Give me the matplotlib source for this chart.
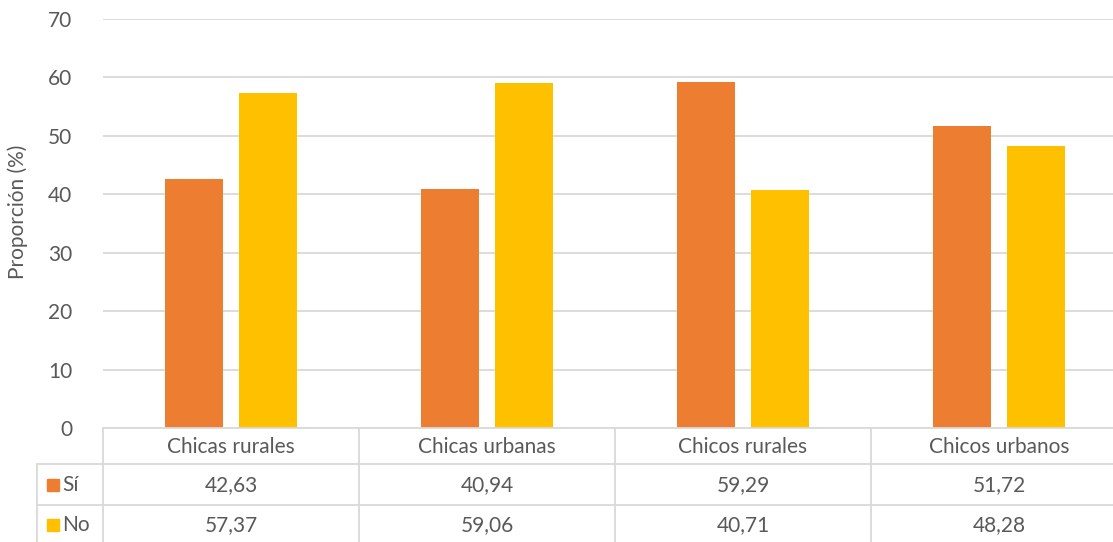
import matplotlib.pyplot as plt
from matplotlib.lines import Line2D
from matplotlib.patches import Rectangle
import numpy as np

plt.rcParams['font.family'] = ['Lato', 'DejaVu Sans']

# Datos
categorias = ["Chicas rurales", "Chicas urbanas", "Chicos rurales", "Chicos urbanos"]
si = [42.63, 40.94, 59.29, 51.72]
no = [57.37, 59.06, 40.71, 48.28]
series = ["Sí", "No"]
colores = ["#ED7D31", "#FFC000"]
gris_texto = "#595959"
gris_linea = "#D9D9D9"
fs = 15

W, H = 1113, 542
fig = plt.figure(figsize=(W / 100, H / 100), dpi=100)
# el área del gráfico se sale un poco por la derecha
ax = fig.add_axes([103 / W, (H - 428) / H, 1024 / W, 409 / H])

x = np.arange(len(categorias))
ancho = 0.227
ax.bar(x - 0.143, si, ancho, color=colores[0], zorder=3)
ax.bar(x + 0.143, no, ancho, color=colores[1], zorder=3)

ax.set_xlim(-0.5, len(categorias) - 0.5)
ax.set_ylim(0, 70)
ax.set_yticks(range(0, 71, 10))
ax.set_xticks([])
ax.tick_params(axis='y', length=0, pad=22, labelsize=fs, labelcolor=gris_texto)
ax.yaxis.grid(True, color=gris_linea, linewidth=1.3, zorder=0)
for s in ax.spines.values():
    s.set_visible(False)

fig.text(18 / W, (H - 212) / H, "Proporción (%)", rotation=90, ha='center', va='center',
         fontsize=fs, color=gris_texto)

# Tabla de datos bajo el eje
def fy(py):
    return (H - py) / H

def fx(px):
    return px / W

lw = 1.3
# líneas horizontales
fig.add_artist(Line2D([fx(103), 1], [fy(428), fy(428)], color=gris_linea, lw=lw))
fig.add_artist(Line2D([fx(37), 1], [fy(464), fy(464)], color=gris_linea, lw=lw))
fig.add_artist(Line2D([fx(37), 1], [fy(505), fy(505)], color=gris_linea, lw=lw))
# líneas verticales
fig.add_artist(Line2D([fx(37), fx(37)], [fy(464), 0], color=gris_linea, lw=lw))
for i in range(len(categorias)):
    px = 103 + 256 * i
    fig.add_artist(Line2D([fx(px), fx(px)], [fy(428), 0], color=gris_linea, lw=lw))

filas_y = [485, 525]
for i, cat in enumerate(categorias):
    cx = fx(103 + 256 * i + 128)
    fig.text(cx, fy(447), cat, ha='center', va='center', fontsize=fs, color=gris_texto)
    fig.text(cx, fy(filas_y[0]), f"{si[i]:.2f}".replace('.', ','), ha='center', va='center',
             fontsize=fs, color=gris_texto)
    fig.text(cx, fy(filas_y[1]), f"{no[i]:.2f}".replace('.', ','), ha='center', va='center',
             fontsize=fs, color=gris_texto)

for nombre, color, py in zip(series, colores, filas_y):
    fig.add_artist(Rectangle((fx(47), fy(py + 6)), 12 / W, 12 / H, color=color,
                             transform=fig.transFigure))
    fig.text(fx(62), fy(py), nombre, ha='left', va='center', fontsize=fs, color=gris_texto)

fig.savefig("out.png", dpi=100)
